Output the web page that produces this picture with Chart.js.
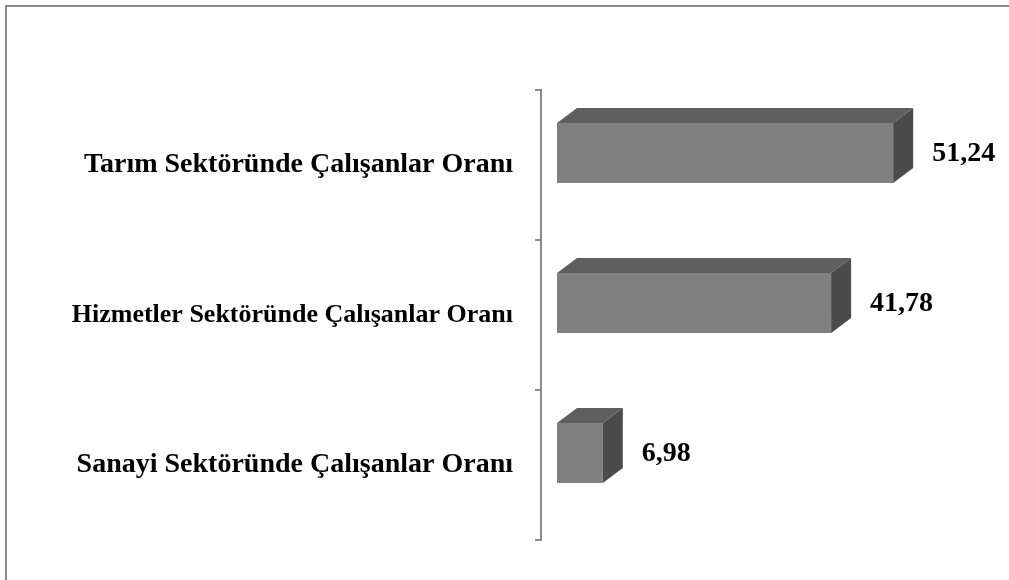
<!DOCTYPE html>
<html>
<head>
<meta charset="utf-8">
<script src="https://cdn.jsdelivr.net/npm/chart.js@4.4.1/dist/chart.umd.min.js"></script>
<style>
  html, body { margin: 0; padding: 0; background: #fff; }
  #wrap { width: 1009px; height: 580px; }
</style>
</head>
<body>
<div id="wrap"><canvas id="chart" width="1009" height="580"></canvas></div>
<script>
const categories = [
  "Tarım Sektöründe Çalışanlar Oranı",
  "Hizmetler Sektöründe Çalışanlar Oranı",
  "Sanayi Sektöründe Çalışanlar Oranı"
]
const values = [51.24, 41.78, 6.98]
const valueLabels = ["51,24", "41,78", "6,98"]

const FONT = "'Liberation Serif', 'Times New Roman', serif"

// 3D look: shift the front face up, then add a top and a right face
const bar3d = {
  id: "bar3d",
  beforeDraw(chart) {
    const ctx = chart.ctx
    ctx.save()
    ctx.fillStyle = "#8a8a8a"
    ctx.fillRect(5, 5, chart.width - 5, 2)
    ctx.fillRect(5, 5, 2, chart.height - 5)
    ctx.restore()
  },
  beforeDatasetsDraw(chart) {
    chart.ctx.save()
    chart.ctx.translate(0, -12)
  },
  afterDatasetsDraw(chart) {
    const ctx = chart.ctx
    const dx = 20, dy = 15
    chart.getDatasetMeta(0).data.forEach((bar, i) => {
      const { x, y, base, height } = bar.getProps(["x", "y", "base", "height"], true)
      const top = y - height / 2
      const bottom = y + height / 2

      ctx.fillStyle = "#5f5f5f"
      ctx.beginPath()
      ctx.moveTo(base, top)
      ctx.lineTo(base + dx, top - dy)
      ctx.lineTo(x + dx, top - dy)
      ctx.lineTo(x, top)
      ctx.closePath()
      ctx.fill()

      ctx.fillStyle = "#4b4b4b"
      ctx.beginPath()
      ctx.moveTo(x, top)
      ctx.lineTo(x + dx, top - dy)
      ctx.lineTo(x + dx, bottom - dy)
      ctx.lineTo(x, bottom)
      ctx.closePath()
      ctx.fill()

      ctx.fillStyle = "#000"
      ctx.font = "bold 28px " + FONT
      ctx.textAlign = "left"
      ctx.textBaseline = "middle"
      ctx.fillText(valueLabels[i], x + dx + 19, y + 1)
    })
    ctx.restore()
  }
}

new Chart(document.getElementById("chart"), {
  type: "bar",
  data: {
    labels: categories,
    datasets: [{
      data: values,
      backgroundColor: "#808080",
      borderWidth: 0,
      barPercentage: 0.4,
      categoryPercentage: 1
    }]
  },
  options: {
    indexAxis: "y",
    responsive: false,
    animation: false,
    layout: { padding: { top: 90, bottom: 40, right: 19, left: 0 } },
    plugins: {
      legend: { display: false },
      tooltip: { enabled: false }
    },
    scales: {
      x: {
        display: false,
        min: -2.44,
        max: 66
      },
      y: {
        afterFit(scale) { scale.width = 541 },
        border: { display: true, color: "#8a8a8a", width: 2 },
        grid: {
          offset: true,
          drawOnChartArea: false,
          drawTicks: true,
          tickLength: 6,
          color: "#8a8a8a",
          lineWidth: 2
        },
        ticks: {
          padding: 22,
          color: "#000",
          font: (c) => ({ family: FONT, size: c.index === 1 ? 26 : 28, weight: "bold" })
        }
      }
    }
  },
  plugins: [bar3d]
})
</script>
</body>
</html>
